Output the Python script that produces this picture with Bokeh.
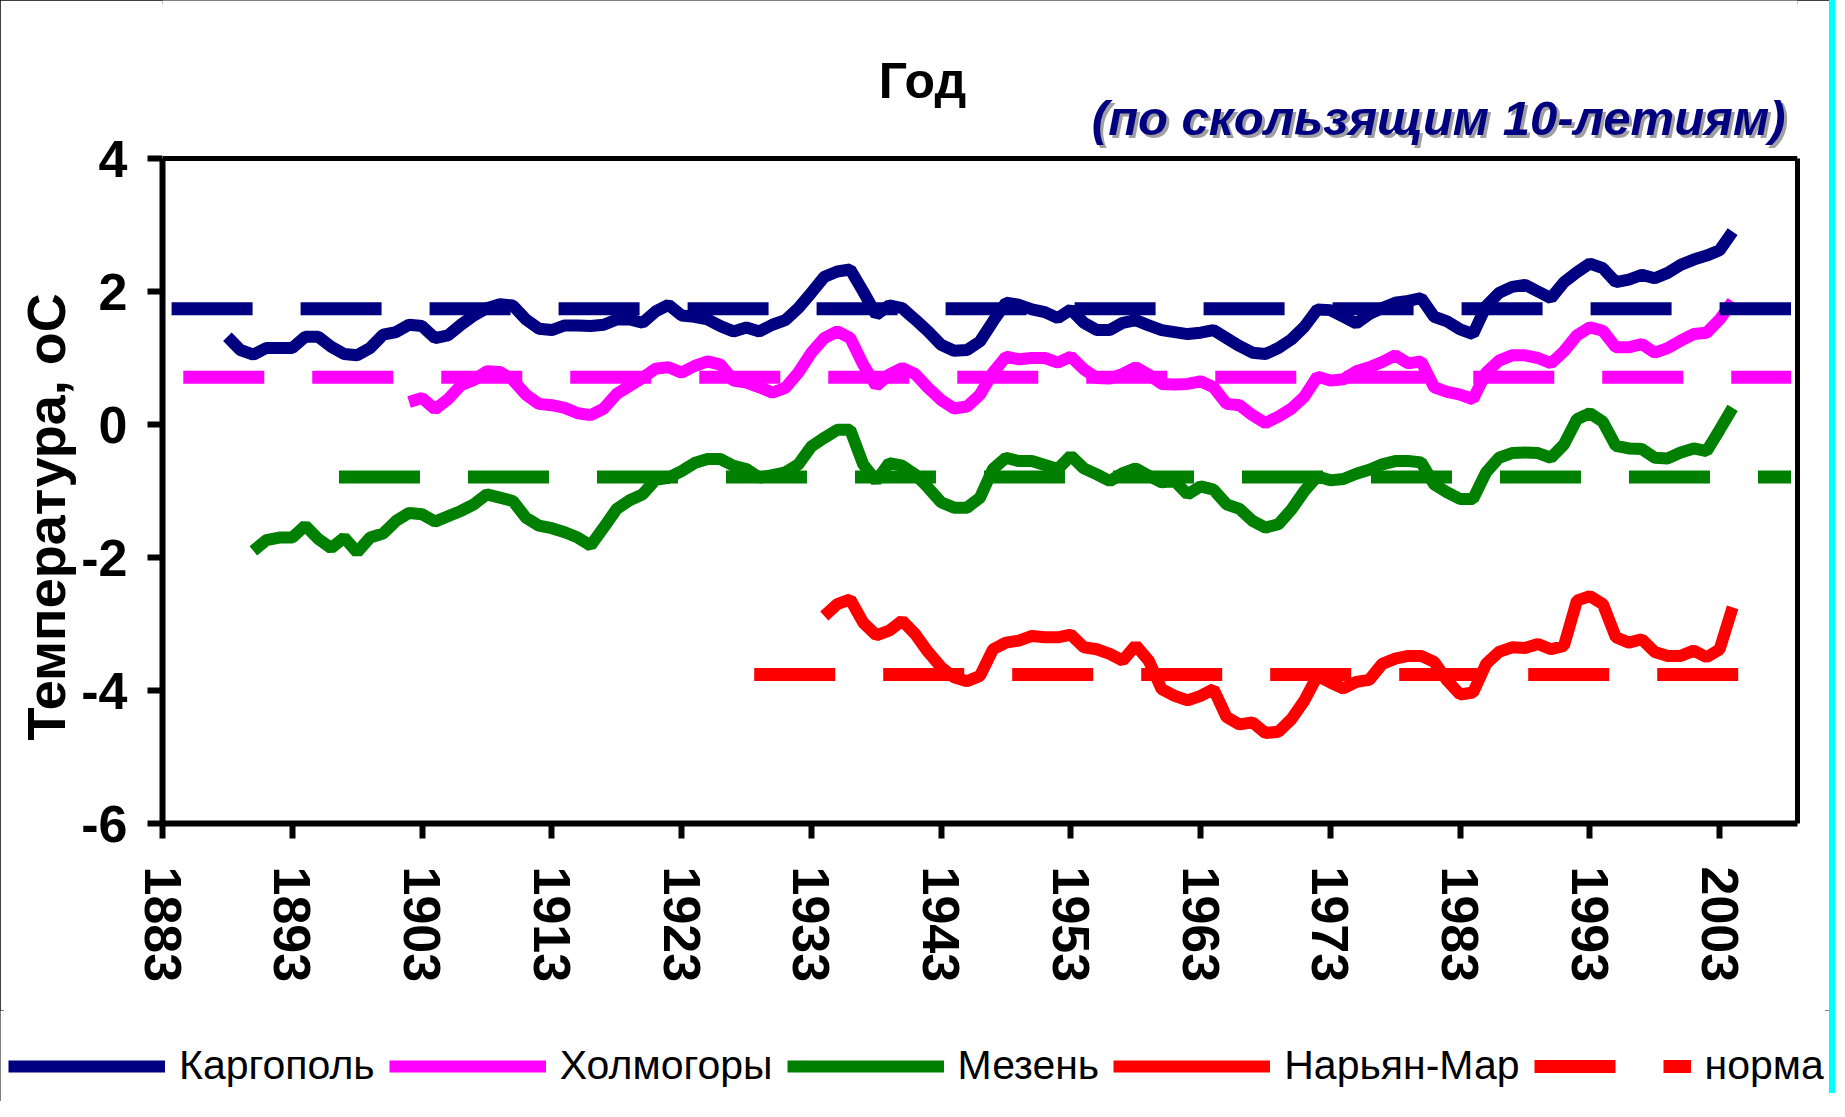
from bokeh.plotting import figure
from bokeh.layouts import column
from bokeh.models import (Range1d, FixedTicker, Legend, LegendItem, Label, Span,
                          LinearAxis, Title)
from bokeh.embed import file_html
from bokeh.resources import INLINE

FONT = "Liberation Sans"

title_text = "Год"
subtitle_text = "(по скользящим 10-летиям)"
y_label = "Температура, оС"

x_ticks = [1883, 1893, 1903, 1913, 1923, 1933, 1943, 1953, 1963, 1973, 1983, 1993, 2003]
x_tick_labels = ["1883", "1893", "1903", "1913", "1923", "1933", "1943", "1953",
                 "1963", "1973", "1983", "1993", "2003"]
y_ticks = [-6, -4, -2, 0, 2, 4]
y_tick_labels = ["-6", "-4", "-2", "0", "2", "4"]
y_min, y_max = -6, 4
x_min, x_max = 1883, 2009

stations = ["Каргополь", "Холмогоры", "Мезень", "Нарьян-Мар"]
colors = ["#000080", "#FF00FF", "#008000", "#FF0000"]

# 10-year running means, first year of each series
kargopol_start = 1888
kargopol = [1.32, 1.12, 1.05, 1.15, 1.15, 1.15, 1.32, 1.32, 1.17, 1.06,
            1.04, 1.15, 1.35, 1.39, 1.50, 1.48, 1.30, 1.34, 1.50, 1.64,
            1.75, 1.81, 1.79, 1.58, 1.44, 1.42, 1.49, 1.49, 1.48, 1.50,
            1.58, 1.58, 1.53, 1.70, 1.80, 1.64, 1.62, 1.58, 1.48, 1.40,
            1.46, 1.40, 1.50, 1.57, 1.75, 1.98, 2.22, 2.30, 2.33, 2.00,
            1.65, 1.79, 1.75, 1.58, 1.40, 1.20, 1.11, 1.12, 1.25, 1.55,
            1.83, 1.80, 1.73, 1.69, 1.60, 1.73, 1.53, 1.42, 1.42, 1.53,
            1.57, 1.49, 1.42, 1.39, 1.36, 1.38, 1.42, 1.30, 1.18, 1.08,
            1.06, 1.15, 1.28, 1.47, 1.73, 1.72, 1.62, 1.52, 1.66, 1.75,
            1.83, 1.86, 1.90, 1.62, 1.55, 1.43, 1.36, 1.78, 1.98, 2.07,
            2.10, 2.00, 1.90, 2.14, 2.29, 2.42, 2.35, 2.14, 2.18, 2.25,
            2.20, 2.28, 2.40, 2.48, 2.54, 2.62, 2.90]

holmogory_start = 1902
holmogory = [0.34, 0.40, 0.23, 0.38, 0.59, 0.67, 0.80, 0.79, 0.67, 0.45,
             0.31, 0.29, 0.25, 0.17, 0.14, 0.24, 0.46, 0.58, 0.70, 0.84,
             0.86, 0.78, 0.88, 0.95, 0.90, 0.66, 0.63, 0.56, 0.48, 0.55,
             0.78, 1.08, 1.30, 1.40, 1.30, 0.90, 0.58, 0.75, 0.85, 0.76,
             0.55, 0.37, 0.24, 0.27, 0.45, 0.78, 1.02, 0.98, 1.00, 1.00,
             0.93, 1.02, 0.83, 0.70, 0.69, 0.76, 0.86, 0.75, 0.61, 0.60,
             0.61, 0.65, 0.56, 0.31, 0.29, 0.14, 0.02, 0.12, 0.24, 0.42,
             0.72, 0.66, 0.68, 0.80, 0.86, 0.94, 1.04, 0.92, 0.95, 0.56,
             0.49, 0.45, 0.38, 0.78, 0.96, 1.04, 1.04, 1.00, 0.92, 1.10,
             1.34, 1.46, 1.41, 1.16, 1.16, 1.21, 1.08, 1.15, 1.26, 1.36,
             1.38, 1.58, 1.85]

mezen_start = 1890
mezen = [-1.90, -1.74, -1.70, -1.70, -1.52, -1.72, -1.86, -1.70, -1.92, -1.70,
         -1.64, -1.45, -1.33, -1.35, -1.46, -1.38, -1.30, -1.20, -1.05, -1.10,
         -1.15, -1.40, -1.52, -1.56, -1.62, -1.70, -1.82, -1.55, -1.27, -1.14,
         -1.05, -0.83, -0.80, -0.70, -0.58, -0.52, -0.52, -0.62, -0.67, -0.80,
         -0.76, -0.72, -0.60, -0.33, -0.20, -0.08, -0.08, -0.60, -0.85, -0.58,
         -0.62, -0.75, -0.95, -1.17, -1.25, -1.25, -1.10, -0.67, -0.50, -0.55,
         -0.55, -0.61, -0.67, -0.47, -0.66, -0.75, -0.85, -0.73, -0.66, -0.77,
         -0.87, -0.85, -1.05, -0.93, -0.98, -1.20, -1.27, -1.45, -1.55, -1.50,
         -1.28, -1.00, -0.78, -0.84, -0.82, -0.74, -0.68, -0.60, -0.55, -0.55,
         -0.57, -0.90, -1.02, -1.12, -1.12, -0.72, -0.50, -0.43, -0.42, -0.43,
         -0.50, -0.30, 0.08, 0.17, 0.04, -0.32, -0.36, -0.37, -0.50, -0.51,
         -0.42, -0.36, -0.40, -0.08, 0.25]

naryan_mar_start = 1934
naryan_mar = [-2.88, -2.70, -2.63, -2.98, -3.17, -3.10, -2.95, -3.15, -3.42, -3.65,
              -3.80, -3.86, -3.78, -3.38, -3.28, -3.25, -3.18, -3.20, -3.20, -3.16,
              -3.35, -3.38, -3.45, -3.55, -3.32, -3.55, -3.98, -4.08, -4.15, -4.08,
              -3.98, -4.40, -4.51, -4.48, -4.64, -4.62, -4.43, -4.15, -3.78, -3.88,
              -3.97, -3.87, -3.84, -3.60, -3.52, -3.48, -3.48, -3.57, -3.85, -4.06,
              -4.03, -3.60, -3.42, -3.35, -3.36, -3.30, -3.38, -3.33, -2.65, -2.58,
              -2.70, -3.20, -3.28, -3.23, -3.42, -3.48, -3.48, -3.40, -3.50, -3.38,
              -2.75]

# climatic norms (one per station) and the span over which they are drawn
norm_values = [1.74, 0.71, -0.79, -3.76]
norm_start = [1883.7, 1884.6, 1896.6, 1928.6]
norm_end = [2008.5, 2008.5, 2008.5, 2004.9]
norm_label = "норма"

series_starts = [kargopol_start, holmogory_start, mezen_start, naryan_mar_start]
series_values = [kargopol, holmogory, mezen, naryan_mar]
series_years = [list(range(s, s + len(v))) for s, v in zip(series_starts, series_values)]

# ---- layout (pixels) ----
W = 1829
H_MAIN, H_LEG = 1010, 91
LEFT, RIGHT = 162, 32
AXIS_TOP, AXIS_BOTTOM = 158, 823          # canvas rows of y = 4 and y = -6
BOTTOM = H_MAIN - AXIS_BOTTOM
ppu = (AXIS_BOTTOM - AXIS_TOP) / (y_max - y_min)
y_top = y_max + AXIS_TOP / ppu           # frame reaches the canvas top, titles fit inside

p = figure(width=W, height=H_MAIN, output_backend="svg", toolbar_location=None,
           x_range=Range1d(x_min, x_max), y_range=Range1d(y_min, y_top),
           min_border_left=LEFT, min_border_right=RIGHT,
           min_border_top=0, min_border_bottom=BOTTOM)
p.frame_align = False
p.title.text = ""
p.title.visible = False
p.background_fill_color = "white"
p.border_fill_color = "white"
p.outline_line_color = None
p.xgrid.visible = False
p.ygrid.visible = False

for yrs, vals, col in zip(series_years, series_values, colors):
    p.line(yrs, vals, line_color=col, line_width=12)

for v, s, e, col in zip(norm_values, norm_start, norm_end, colors):
    p.line([s, e], [v, v], line_color=col, line_width=13, line_dash="81 48")

xl = p.xaxis[0]
yl = p.yaxis[0]
for ax in (xl, yl):
    ax.axis_line_width = 6
    ax.axis_line_color = "black"
    ax.major_tick_line_width = 6
    ax.major_tick_line_color = "black"
    ax.major_tick_out = 15
    ax.major_tick_in = 0
    ax.minor_tick_line_color = None
    ax.major_label_text_font = FONT
    ax.major_label_text_font_size = "52px"
    ax.major_label_text_font_style = "bold"
    ax.major_label_text_color = "black"

xl.ticker = FixedTicker(ticks=x_ticks)
xl.major_label_overrides = dict(zip(x_ticks, x_tick_labels))
xl.major_label_orientation = "vertical"
xl.major_label_standoff = 28

yl.bounds = (y_min, y_max)
yl.ticker = FixedTicker(ticks=y_ticks)
yl.major_label_overrides = dict(zip(y_ticks, y_tick_labels))
yl.major_label_standoff = 20

# plot-area border: top edge at y = 4, right edge as a bare axis
p.add_layout(Span(location=y_max, dimension="width", line_color="black", line_width=5))
right_axis = LinearAxis(bounds=(y_min, y_max), ticker=FixedTicker(ticks=[]),
                        axis_line_width=5, axis_line_color="black",
                        major_tick_line_color=None, minor_tick_line_color=None)
p.add_layout(right_axis, "right")

# y-axis title, placed beside the axis
p.add_layout(Title(text=y_label, align="left", offset=AXIS_BOTTOM - 740,
                   vertical_align="bottom", standoff=6,
                   text_font=FONT, text_font_size="54px", text_font_style="bold",
                   text_color="black"), "left")

# title and subtitle (screen units from the frame's bottom-left)
p.add_layout(Label(x=760, y=AXIS_BOTTOM - 80, x_units="screen", y_units="screen",
                   text=title_text, text_font=FONT, text_font_size="50px",
                   text_font_style="bold", text_color="black",
                   text_align="center", text_baseline="alphabetic"))
p.add_layout(Label(x=1626, y=AXIS_BOTTOM - 120, x_units="screen", y_units="screen",
                   text=subtitle_text, text_font=FONT, text_font_size="49px",
                   text_font_style="bold italic", text_color="#606060", text_alpha=0.6,
                   text_align="right", text_baseline="alphabetic"))
p.add_layout(Label(x=1623, y=AXIS_BOTTOM - 117, x_units="screen", y_units="screen",
                   text=subtitle_text, text_font=FONT, text_font_size="49px",
                   text_font_style="bold italic", text_color="#000080",
                   text_align="right", text_baseline="alphabetic"))

# ---- legend strip (its proxy lines lie outside its view) ----
pl = figure(width=W, height=H_LEG, output_backend="svg", toolbar_location=None,
            x_range=Range1d(0, 1), y_range=Range1d(0, 1),
            x_axis_location=None, y_axis_location=None,
            min_border=0, min_border_left=0, min_border_right=0,
            min_border_top=0, min_border_bottom=0)
pl.frame_align = False
pl.title.text = ""
pl.title.visible = False
pl.outline_line_color = None
pl.grid.visible = False
pl.background_fill_color = "white"
pl.border_fill_color = "white"

leg_items = []
for s, yrs, vals, col in zip(stations, series_years, series_values, colors):
    r = pl.line(yrs, vals, line_color=col, line_width=12)
    leg_items.append(LegendItem(label=s, renderers=[r]))
rn = pl.line([norm_start[3], norm_end[3]], [norm_values[3], norm_values[3]],
             line_color=colors[3], line_width=13, line_dash="81 48")
leg_items.append(LegendItem(label=norm_label, renderers=[rn]))

legend = Legend(items=leg_items, location=(8, 12), orientation="horizontal",
                glyph_width=157, glyph_height=40, label_standoff=14, spacing=14,
                padding=0, margin=0, border_line_alpha=0, background_fill_alpha=0,
                label_text_font=FONT, label_text_font_size="41px",
                label_text_color="black")
pl.add_layout(legend)

layout = column(p, pl, spacing=0,
                styles={"outline": "4px solid black", "outline-offset": "-4px",
                        "box-shadow": "6px -8px 0 0 #00FFFF"})

open("out.html", "w").write(file_html(layout, INLINE))
